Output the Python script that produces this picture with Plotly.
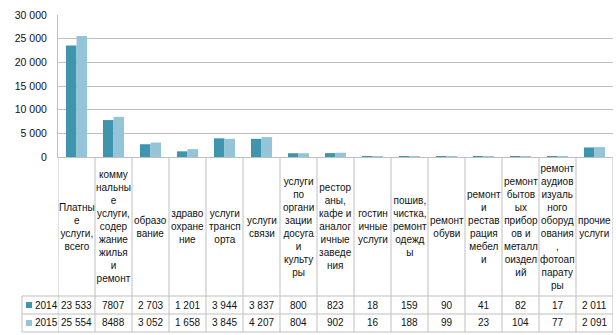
import plotly.graph_objects as go

categories = [
    "Платные услуги, всего",
    "коммунальные услуги, содержание жилья и ремонт",
    "образование",
    "здравоохранение",
    "услуги транспорта",
    "услуги связи",
    "услуги по организации досуга и культуры",
    "рестораны, кафе и аналогичные заведения",
    "гостиничные услуги",
    "пошив, чистка, ремонт одежды",
    "ремонт обуви",
    "ремонт и реставрация мебели",
    "ремонт бытовых приборов и металлоизделий",
    "ремонт аудиовизуального оборудования, фотоаппаратуры",
    "прочие услуги",
]
category_labels = [
    "Платны<br>е<br>услуги,<br>всего",
    "комму<br>нальны<br>е<br>услуги,<br>содер<br>жание<br>жилья<br>и<br>ремонт",
    "образо<br>вание",
    "здраво<br>охране<br>ние",
    "услуги<br>трансп<br>орта",
    "услуги<br>связи",
    "услуги<br>по<br>органи<br>зации<br>досуга<br>и<br>культу<br>ры",
    "рестор<br>аны,<br>кафе и<br>аналог<br>ичные<br>заведе<br>ния",
    "гостин<br>ичные<br>услуги",
    "пошив,<br>чистка,<br>ремонт<br>одежд<br>ы",
    "ремонт<br>обуви",
    "ремонт<br>и<br>рестав<br>рация<br>мебел<br>и",
    "ремонт<br>бытов<br>ых<br>прибор<br>ов и<br>металл<br>оиздел<br>ий",
    "ремонт<br>аудиов<br>изуаль<br>ного<br>оборуд<br>ования<br>,<br>фотоап<br>парату<br>ры",
    "прочие<br>услуги",
]
series_names = ["2014", "2015"]
values_2014 = [23533, 7807, 2703, 1201, 3944, 3837, 800, 823, 18, 159, 90, 41, 82, 17, 2011]
values_2015 = [25554, 8488, 3052, 1658, 3845, 4207, 804, 902, 16, 188, 99, 23, 104, 77, 2091]
ungrouped_idx = {1}  # the source table shows this column without a thousands space
y_ticks = [0, 5000, 10000, 15000, 20000, 25000, 30000]

colors = ["#3F95AE", "#93C4D8"]
FONT = "Liberation Sans"
TXT = "#111111"
LINE = "#BFBFBF"

W, H = 616, 335
ML, MR, MT, MB = 58, 3, 15, 178
plot_w = W - ML - MR
plot_h = H - MT - MB
base_px = H - MB


def py(ypx):
    return (base_px - ypx) / plot_h


def px(xpx):
    return (xpx - ML) / plot_w


def fmt(v, i):
    if i in ungrouped_idx:
        return str(v)
    return f"{v:,}".replace(",", " ")


fig = go.Figure()
for name, vals, c in zip(series_names, [values_2014, values_2015], colors):
    fig.add_trace(go.Bar(x=list(range(len(categories))), y=vals, name=name,
                         marker=dict(color=c, line=dict(width=0)),
                         hovertext=categories))

n = len(categories)
row_top, row_mid, row_bot = 296, 314, 332
shapes = []
for k in range(n + 1):
    shapes.append(dict(type="line", xref="x", yref="paper", x0=k - 0.5, x1=k - 0.5,
                       y0=0, y1=py(row_bot), line=dict(color=LINE, width=1)))
for yy in (row_top, row_mid, row_bot):
    shapes.append(dict(type="line", xref="paper", yref="paper", x0=px(22), x1=1,
                       y0=py(yy), y1=py(yy), line=dict(color=LINE, width=1)))
shapes.append(dict(type="line", xref="paper", yref="paper", x0=px(22), x1=px(22),
                   y0=py(row_top), y1=py(row_bot), line=dict(color=LINE, width=1)))

annotations = []
for i, lab in enumerate(category_labels):
    annotations.append(dict(x=i, xref="x", y=py((base_px + row_top) / 2), yref="paper",
                            text=lab, showarrow=False, xanchor="center", yanchor="middle",
                            align="center", font=dict(family=FONT, size=10, color=TXT)))
for r, (name, vals, c) in enumerate(zip(series_names, [values_2014, values_2015], colors)):
    yc = (row_top + row_mid) / 2 if r == 0 else (row_mid + row_bot) / 2
    shapes.append(dict(type="rect", xref="paper", yref="paper", x0=px(26), x1=px(32),
                       y0=py(yc + 3), y1=py(yc - 3), fillcolor=c, line=dict(width=0)))
    annotations.append(dict(x=px(33), xref="paper", y=py(yc), yref="paper", text=name,
                            showarrow=False, xanchor="left", yanchor="middle",
                            font=dict(family=FONT, size=10, color=TXT)))
    for i, v in enumerate(vals):
        annotations.append(dict(x=i, xref="x", y=py(yc), yref="paper", text=fmt(v, i),
                                showarrow=False, xanchor="center", yanchor="middle",
                                font=dict(family=FONT, size=10, color=TXT)))

fig.update_layout(
    width=W, height=H, margin=dict(l=ML, r=MR, t=MT, b=MB, pad=0),
    paper_bgcolor="white", plot_bgcolor="white",
    barmode="group", bargap=0.43, bargroupgap=0,
    showlegend=False, separators=", ",
    font=dict(family=FONT, size=10, color=TXT),
    shapes=shapes, annotations=annotations,
    xaxis=dict(range=[-0.5, n - 0.5], showticklabels=False, showgrid=False,
               zeroline=False, showline=True, linecolor=LINE, linewidth=1, ticks=""),
    yaxis=dict(range=[0, 30000], tickvals=y_ticks, tickformat=",d", showgrid=True,
               gridcolor=LINE, gridwidth=1.3, zeroline=False, showline=True,
               linecolor=LINE, linewidth=1, ticks="", ticklen=0, ticklabelstandoff=8,
               tickfont=dict(family=FONT, size=10.5, color=TXT)),
)
fig.write_html("out.html")
